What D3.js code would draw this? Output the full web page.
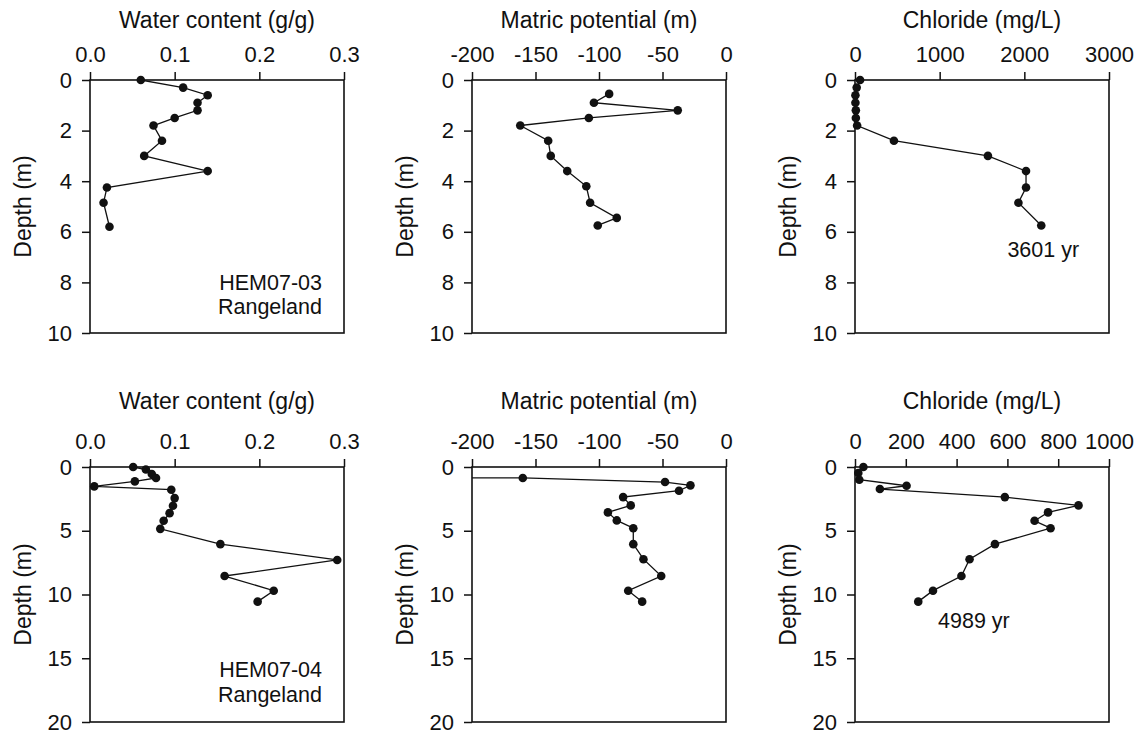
<!DOCTYPE html>
<html><head><meta charset="utf-8">
<script src="https://cdn.jsdelivr.net/npm/d3@7"></script>
<style>
body{margin:0;background:#fff}
svg{display:block}
text{font-family:"Liberation Sans",Arial,Helvetica,sans-serif;fill:#111}
</style>
</head><body>
<svg id="chart" width="1140" height="736"></svg>
<script>
// ---------- data ----------
// HEM07-03
const wc1Depth = [0, 0.3, 0.6, 0.9, 1.2, 1.5, 1.8, 2.4, 3.0, 3.6, 4.25, 4.85, 5.8];
const wc1Value = [0.06, 0.11, 0.139, 0.127, 0.127, 0.10, 0.075, 0.085, 0.064, 0.139, 0.02, 0.016, 0.023];
const mp1Depth = [0.55, 0.9, 1.2, 1.5, 1.8, 2.4, 3.0, 3.6, 4.2, 4.85, 5.45, 5.75];
const mp1Value = [-92, -104, -38, -108, -162, -140, -138, -125, -110, -107, -86, -101];
const cl1Depth = [0, 0.3, 0.6, 0.9, 1.2, 1.5, 1.8, 2.4, 3.0, 3.6, 4.25, 4.85, 5.75];
const cl1Value = [60, 20, 5, 5, 10, 10, 25, 460, 1570, 2020, 2020, 1930, 2200];
// HEM07-04
const wc2Depth = [0, 0.2, 0.55, 0.86, 1.13, 1.52, 1.78, 2.44, 3.04, 3.62, 4.22, 4.85, 6.05, 7.29, 8.55, 9.7, 10.56];
const wc2Value = [0.051, 0.066, 0.073, 0.078, 0.053, 0.005, 0.096, 0.100, 0.098, 0.094, 0.087, 0.083, 0.154, 0.292, 0.159, 0.217, 0.198];
const mp2Depth = [0.75, 0.86, 1.18, 1.44, 1.86, 2.36, 3.01, 3.56, 4.19, 4.8, 6.05, 7.23, 8.55, 9.7, 10.56];
const mp2Value = [-1000, -160, -48, -28, -37, -81, -75, -93, -86, -73, -73, -65, -51, -77, -66];
const cl2Depth = [0, 0.47, 1.0, 1.47, 1.73, 2.36, 3.01, 3.56, 4.22, 4.8, 6.05, 7.23, 8.55, 9.7, 10.56];
const cl2Value = [33, 13, 17, 203, 98, 590, 880, 760, 707, 770, 551, 451, 419, 307, 249];

// tick values / labels
const wcTicks = [0, 0.1, 0.2, 0.3];
const wcTickLabels = ["0.0", "0.1", "0.2", "0.3"];
const mpTicks = [-200, -150, -100, -50, 0];
const mpTickLabels = ["-200", "-150", "-100", "-50", "0"];
const cl1Ticks = [0, 1000, 2000, 3000];
const cl1TickLabels = ["0", "1000", "2000", "3000"];
const cl2Ticks = [0, 200, 400, 600, 800, 1000];
const cl2TickLabels = ["0", "200", "400", "600", "800", "1000"];
const depth1Ticks = [0, 2, 4, 6, 8, 10];
const depth2Ticks = [0, 5, 10, 15, 20];

const titles = ["Water content (g/g)", "Matric potential (m)", "Chloride (mg/L)"];
const yTitle = "Depth (m)";

// annotations: [x value, depth of first baseline, lines, anchor]
const notes1 = [[0.274, 8.3, ["HEM07-03", "Rangeland"], "end"]];
const notes3 = [[1800, 7.0, ["3601 yr"], "start"]];
const notes4 = [[0.274, 16.5, ["HEM07-04", "Rangeland"], "end"]];
const notes6 = [[327, 12.6, ["4989 yr"], "start"]];

// ---------- layout ----------
const colLeft = [90, 472, 855];
const plotW = 254;
const rows = [
  {top: 80, h: 253, yDomain: [0, 10], yTicks: depth1Ticks, titleOff: 52},
  {top: 467, h: 255, yDomain: [0, 20], yTicks: depth2Ticks, titleOff: 58}
];

const panels = [
  {c:0, r:0, title:titles[0], xd:[0,0.3], xt:wcTicks, xl:wcTickLabels, d:wc1Depth, v:wc1Value, notes:notes1},
  {c:1, r:0, title:titles[1], xd:[-200,0], xt:mpTicks, xl:mpTickLabels, d:mp1Depth, v:mp1Value, notes:[]},
  {c:2, r:0, title:titles[2], xd:[0,3000], xt:cl1Ticks, xl:cl1TickLabels, d:cl1Depth, v:cl1Value, notes:notes3},
  {c:0, r:1, title:titles[0], xd:[0,0.3], xt:wcTicks, xl:wcTickLabels, d:wc2Depth, v:wc2Value, notes:notes4},
  {c:1, r:1, title:titles[1], xd:[-200,0], xt:mpTicks, xl:mpTickLabels, d:mp2Depth, v:mp2Value, notes:[]},
  {c:2, r:1, title:titles[2], xd:[0,1000], xt:cl2Ticks, xl:cl2TickLabels, d:cl2Depth, v:cl2Value, notes:notes6}
];

const svg = d3.select("#chart");
const defs = svg.append("defs");

panels.forEach((p, i) => {
  const row = rows[p.r];
  const left = colLeft[p.c], top = row.top, w = plotW, h = row.h;
  const x = d3.scaleLinear().domain(p.xd).range([0, w]);
  const y = d3.scaleLinear().domain(row.yDomain).range([0, h]);
  const g = svg.append("g").attr("transform", `translate(${left},${top})`);

  defs.append("clipPath").attr("id", "clip" + i)
    .append("rect").attr("x", 0).attr("y", 0).attr("width", w).attr("height", h);

  // frame
  g.append("rect").attr("x", 0).attr("y", 0).attr("width", w).attr("height", h)
    .attr("fill", "none").attr("stroke", "#111").attr("stroke-width", 1.6);

  // axes
  const xa = g.append("g").call(
    d3.axisTop(x).tickValues(p.xt).tickFormat((d, k) => p.xl[k]).tickSize(8).tickPadding(10));
  const ya = g.append("g").call(
    d3.axisLeft(y).tickValues(row.yTicks).tickFormat(d => String(d)).tickSize(8).tickPadding(10));
  [xa, ya].forEach(a => {
    a.select(".domain").remove();
    a.selectAll(".tick line").attr("stroke", "#111").attr("stroke-width", 1.5);
    a.selectAll(".tick text").attr("font-size", 22).attr("fill", "#111")
      .style("font-family", '"Liberation Sans",Arial,sans-serif');
  });

  // titles
  g.append("text").attr("x", w / 2).attr("y", -row.titleOff)
    .attr("text-anchor", "middle").attr("font-size", 23).text(p.title);
  g.append("text").attr("transform", `translate(-59,${h / 2}) rotate(-90)`)
    .attr("text-anchor", "middle").attr("font-size", 23).text(yTitle);

  // data
  const pts = p.d.map((dv, k) => ({d: dv, v: p.v[k]}));
  const line = d3.line().x(q => x(q.v)).y(q => y(q.d));
  g.append("path").datum(pts).attr("d", line)
    .attr("fill", "none").attr("stroke", "#111").attr("stroke-width", 1.3)
    .attr("clip-path", `url(#clip${i})`);
  g.selectAll("circle.pt").data(pts.filter(q => q.v >= p.xd[0] && q.v <= p.xd[1]))
    .enter().append("circle").attr("class", "pt")
    .attr("cx", q => x(q.v)).attr("cy", q => y(q.d)).attr("r", 4.3)
    .attr("fill", "#111");

  // annotations (multi-line as tspans of one text)
  p.notes.forEach(n => {
    const t = g.append("text").attr("x", x(n[0])).attr("y", y(n[1]))
      .attr("text-anchor", n[3]).attr("font-size", 21.5);
    n[2].forEach((s, k) => {
      t.append("tspan").attr("x", x(n[0])).attr("dy", k === 0 ? 0 : 24.2).text(s);
    });
  });
});
</script>
</body></html>
